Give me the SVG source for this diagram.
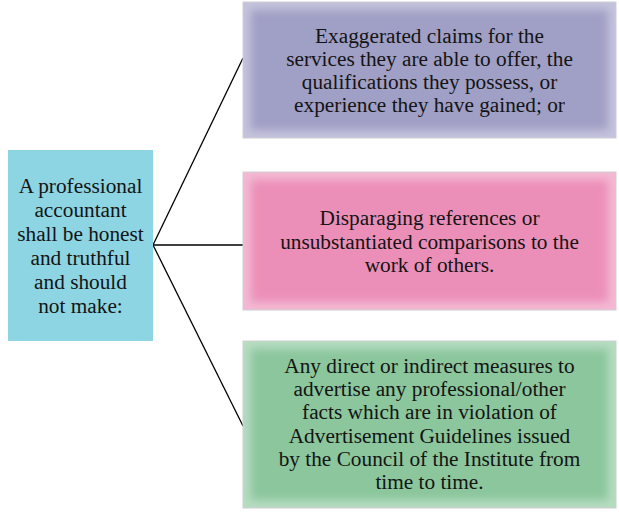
<svg xmlns="http://www.w3.org/2000/svg" width="619" height="516" viewBox="0 0 619 516">
<defs>
<style>
.t{font-family:'Liberation Serif','Tinos','DejaVu Serif',serif;font-size:21.3px;fill:#141414;text-anchor:middle}
.frame{stroke:#cfcfd4;stroke-width:1}
.conn{stroke:#000;stroke-width:1.3;fill:none}
</style>
<filter id="soft" x="-10%" y="-10%" width="120%" height="120%"><feGaussianBlur stdDeviation="4"/></filter>
<clipPath id="c1"><rect x="243" y="2" width="373" height="136"/></clipPath>
<clipPath id="c2"><rect x="243" y="172" width="373" height="138"/></clipPath>
<clipPath id="c3"><rect x="243" y="341" width="373" height="167"/></clipPath>
</defs>
<rect width="619" height="516" fill="#fff"/>
<g id="connectors">
<line class="conn" x1="153" y1="245" x2="243" y2="58"/>
<line class="conn" x1="153" y1="245" x2="243" y2="245"/>
<line class="conn" x1="153" y1="245" x2="243" y2="426"/>
</g>
<g id="source">
<rect x="8" y="150" width="145" height="191" fill="#8dd5e3"/>
<text class="t"><tspan x="80.5" y="193">A professional</tspan><tspan x="80.5" y="217">accountant</tspan><tspan x="80.5" y="241">shall be honest</tspan><tspan x="80.5" y="265">and truthful</tspan><tspan x="80.5" y="289">and should</tspan><tspan x="80.5" y="313">not make:</tspan></text>
</g>
<g id="claims">
<rect class="frame" x="243" y="2" width="373" height="136" fill="#c4c3dc"/>
<rect x="251" y="10" width="357" height="120" fill="#a09fc5" filter="url(#soft)" clip-path="url(#c1)"/>
<text class="t"><tspan x="429.5" y="43">Exaggerated claims for the</tspan><tspan x="429.5" y="66">services they are able to offer, the</tspan><tspan x="429.5" y="89">qualifications they possess, or</tspan><tspan x="429.5" y="112">experience they have gained; or</tspan></text>
</g>
<g id="disparaging">
<rect class="frame" x="243" y="172" width="373" height="138" fill="#f3b9d3"/>
<rect x="251" y="180" width="357" height="122" fill="#ec8fb8" filter="url(#soft)" clip-path="url(#c2)"/>
<text class="t"><tspan x="429.5" y="225">Disparaging references or</tspan><tspan x="429.5" y="248.5">unsubstantiated comparisons to the</tspan><tspan x="429.5" y="272">work of others.</tspan></text>
</g>
<g id="advertise">
<rect class="frame" x="243" y="341" width="373" height="167" fill="#b6dcc1"/>
<rect x="251" y="349" width="357" height="151" fill="#8bc69c" filter="url(#soft)" clip-path="url(#c3)"/>
<text class="t"><tspan x="429.5" y="373">Any direct or indirect measures to</tspan><tspan x="429.5" y="396.2">advertise any professional/other</tspan><tspan x="429.5" y="419.4">facts which are in violation of</tspan><tspan x="429.5" y="442.6">Advertisement Guidelines issued</tspan><tspan x="429.5" y="465.8">by the Council of the Institute from</tspan><tspan x="429.5" y="489">time to time.</tspan></text>
</g>
</svg>
